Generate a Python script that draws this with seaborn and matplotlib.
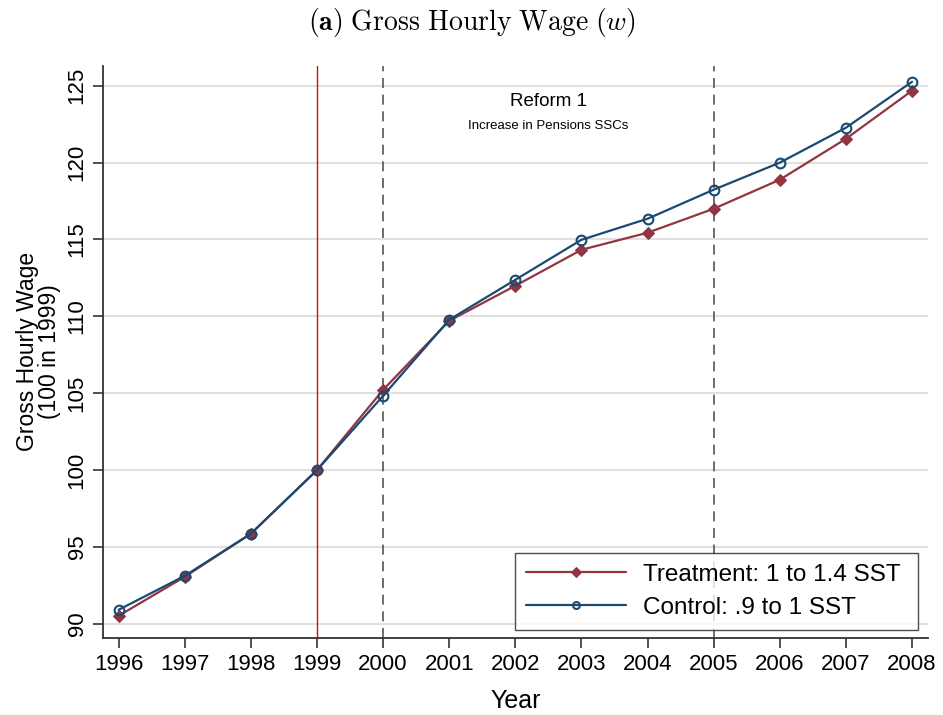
import seaborn as sns
import pandas as pd
import matplotlib.pyplot as plt

years = list(range(1996, 2009))
treatment = [90.52, 93.06, 95.86, 100.0, 105.22, 109.71, 111.99, 114.33, 115.44, 117.0, 118.89, 121.55, 124.68]
control = [90.91, 93.12, 95.86, 100.0, 104.83, 109.78, 112.38, 114.98, 116.35, 118.24, 120.0, 122.27, 125.26]
yticks = [90, 95, 100, 105, 110, 115, 120, 125]
reform_years = [2000, 2005]
base_year = 1999

sns.set_style("white", {"xtick.bottom": True, "ytick.left": True,
                        "text.color": "black", "axes.labelcolor": "black",
                        "xtick.color": "#333333", "ytick.color": "#333333"})
plt.rcParams['font.family'] = ['Liberation Sans', 'DejaVu Sans']
plt.rcParams['mathtext.fontset'] = 'cm'

df = pd.DataFrame({"Year": years, "treat": treatment, "ctrl": control})

fig = plt.figure(figsize=(9.43, 7.15), dpi=100)
ax = fig.add_axes([0.109, 0.108, 0.875, 0.800])

# grid lines
for t in yticks:
    ax.axhline(t, color="#e0e0e0", lw=1.5, zorder=0)

ax.axvline(base_year, color="#e8000b", lw=1.0, zorder=1)
for yr in reform_years:
    ax.axvline(yr, color="#555555", lw=1.2, ls=(0, (6, 4)), zorder=1)

sns.lineplot(data=df, x="Year", y="treat", ax=ax, color="#923540", lw=1.6,
             marker="D", markersize=6, markeredgecolor="#923540",
             label="Treatment: 1 to 1.4 SST", zorder=3)
sns.lineplot(data=df, x="Year", y="ctrl", ax=ax, color="#1a4a72", lw=1.6,
             marker="o", markersize=7, markerfacecolor="none",
             markeredgecolor="#1a4a72", markeredgewidth=1.5,
             label="Control: .9 to 1 SST", zorder=4)

ax.set_xlim(1995.76, 2008.24)
ax.set_ylim(89.09, 126.3)
ax.set_xticks(years)
ax.set_yticks(yticks)
ax.tick_params(axis="x", labelsize=16, length=7, width=1.2, color="#333333",
               labelcolor="black", pad=5)
ax.tick_params(axis="y", labelsize=16, length=7, width=1.2, color="#333333",
               labelcolor="black", labelrotation=90, pad=4)
for lab in ax.get_yticklabels():
    lab.set_va("center")

for s in ["top", "right"]:
    ax.spines[s].set_visible(False)
for s in ["left", "bottom"]:
    ax.spines[s].set_color("#333333")
    ax.spines[s].set_linewidth(1.3)

ax.set_xlabel("Year", fontsize=18, labelpad=10)
ax.set_ylabel("Gross Hourly Wage\n(100 in 1999)", fontsize=16.5, labelpad=4, linespacing=0.95)

ax.text(2002.5, 124.0, "Reform 1", ha="center", va="center", fontsize=13.5)
ax.text(2002.5, 122.4, "Increase in Pensions SSCs", ha="center", va="center", fontsize=9.5)

leg = ax.legend(loc="lower right", fontsize=17.5, frameon=True, fancybox=False,
                edgecolor="#222222", handlelength=4.1, borderpad=0.45,
                labelspacing=0.45, handletextpad=0.7, borderaxespad=0,
                bbox_to_anchor=(0.988, 0.014))
leg.get_frame().set_linewidth(1.0)
leg.get_texts()[0].set_text("Treatment: 1 to 1.4 SST ")
leg.get_texts()[1].set_text("Control: .9 to 1 SST ")
for h in leg.legend_handles:
    h.set_markersize(5)

fig.text(0.5, 0.968, r"$\mathbf{(a)}$ $\mathrm{Gross\ Hourly\ Wage}$ $(w)$",
         ha="center", va="center", fontsize=20)

fig.savefig("out.png", dpi=100)
